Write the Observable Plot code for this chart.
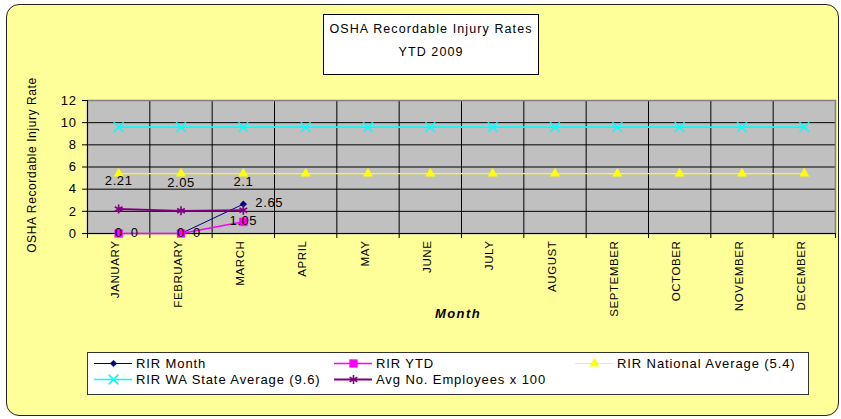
<!DOCTYPE html>
<html>
<head>
<meta charset="utf-8">
<script src="https://cdn.jsdelivr.net/npm/d3@7"></script>
<script src="https://cdn.jsdelivr.net/npm/@observablehq/plot@0.6"></script>
<style>
  html, body { margin: 0; padding: 0; background: #fff; }
  body { font-family: "Liberation Sans", Arial, sans-serif; }
  #wrap { position: relative; width: 841px; height: 419px; overflow: hidden; }
  #frame { position: absolute; left: 6px; top: 4px; width: 833px; height: 412px; background: #FFFF99; border: 1.5px solid #222; border-radius: 13px; box-sizing: border-box; }
  #chart { position: absolute; left: 0; top: 0; }
  #title { position: absolute; left: 323px; top: 14px; width: 216px; height: 61px; background: #fff; border: 1px solid #000; box-sizing: border-box; text-align: center; font-size: 12.5px; letter-spacing: 1.1px; color: #000; }
  #title div { position: absolute; left: 0; right: 0; }
  #legend { position: absolute; left: 87px; top: 352px; width: 722px; height: 43px; background: #fff; border: 1px solid #333; box-sizing: border-box; font-size: 13px; letter-spacing: 0.9px; color: #000; }
  .item { position: absolute; display: flex; align-items: center; height: 16px; white-space: nowrap; }
  .item svg { margin-right: 4px; }
</style>
</head>
<body>
<div id="wrap">
  <div id="frame"></div>
  <div id="chart"></div>
  <div id="title"><div style="top:7px">OSHA Recordable Injury Rates</div><div style="top:30px">YTD 2009</div></div>
  <div id="legend"></div>
</div>
<script>
const months = ["JANUARY","FEBRUARY","MARCH","APRIL","MAY","JUNE","JULY","AUGUST","SEPTEMBER","OCTOBER","NOVEMBER","DECEMBER"];
const rirMonth = [0, 0, 2.65];
const rirYTD = [0, 0, 1.05];
const nationalAvg = [5.4, 5.4, 5.4, 5.4, 5.4, 5.4, 5.4, 5.4, 5.4, 5.4, 5.4, 5.4];
const waStateAvg = [9.6, 9.6, 9.6, 9.6, 9.6, 9.6, 9.6, 9.6, 9.6, 9.6, 9.6, 9.6];
const avgEmployees = [2.21, 2.05, 2.1];
const yTicks = [0, 2, 4, 6, 8, 10, 12];

const series = [
  {name: "RIR Month", values: rirMonth, color: "#000080", symbol: "diamond2", fill: true, width: 1, r: 3},
  {name: "RIR YTD", values: rirYTD, color: "#FF00FF", symbol: "square", fill: true, width: 1.5, r: 4.4},
  {name: "RIR National Average (5.4)", values: nationalAvg, color: "#FFFF00", symbol: "triangle", fill: true, width: 1.2, r: 3.4},
  {name: "RIR WA State Average (9.6)", values: waStateAvg, color: "#00FFFF", symbol: "times", fill: false, width: 1.6, r: 4.5},
  {name: "Avg No. Employees x 100", values: avgEmployees, color: "#800080", symbol: "asterisk", fill: false, width: 1.8, r: 4.2}
];
const rows = series.flatMap(s => s.values.map((v, i) => ({series: s.name, x: i + 0.5, y: v})));
const bySeries = name => rows.filter(d => d.series === name);

const marks = [
  Plot.frame({fill: "#C0C0C0"}),
  Plot.ruleY(yTicks, {stroke: "#000", strokeWidth: 1}),
  Plot.ruleX(d3.range(1, 12), {stroke: "#000", strokeWidth: 1}),
  Plot.frame({stroke: "#808080", strokeWidth: 1.5}),
  Plot.ruleX([0], {stroke: "#000"}),
  Plot.ruleY([0], {stroke: "#000"}),
  Plot.axisY({ticks: yTicks, tickSize: 5, tickPadding: 6, fontSize: 13, stroke: "#000", fill: "#000", label: null, anchor: "left"}),
  Plot.axisX({ticks: d3.range(0, 13), tickSize: 5, tickFormat: () => "", label: null, stroke: "#000"}),
  Plot.axisX({ticks: d3.range(0, 12).map(i => i + 0.5), tickSize: 0, tickPadding: 7, tickRotate: -90, tickFormat: v => months[Math.floor(v)], fontSize: 11.5, label: null, fill: "#000", dx: -3})
];
for (const s of series) {
  const data = bySeries(s.name);
  marks.push(Plot.line(data, {x: "x", y: "y", stroke: s.color, strokeWidth: s.width}));
  marks.push(Plot.dot(data, {x: "x", y: "y", symbol: () => s.symbol, r: s.r,
    fill: s.fill ? s.color : "none", stroke: s.color, strokeWidth: s.fill ? 0.5 : 1.6}));
}
// data labels
marks.push(Plot.text(bySeries("RIR YTD"), {x: "x", y: "y", text: d => String(d.y), fontSize: 13, fill: "#000", dy: -1}));
marks.push(Plot.text(bySeries("RIR Month"), {x: "x", y: "y", text: d => String(d.y), fontSize: 13, fill: "#000", textAnchor: "start", dx: 12, dy: -1}));
marks.push(Plot.text(bySeries("Avg No. Employees x 100"), {x: "x", y: "y", text: d => String(d.y), fontSize: 13, fill: "#000", dy: -28}));

const chart = Plot.plot({
  width: 841, height: 419,
  marginLeft: 87, marginRight: 6, marginTop: 100, marginBottom: 186,
  style: {background: "transparent", fontFamily: "'Liberation Sans', Arial, sans-serif", color: "#000", letterSpacing: "0.6px"},
  x: {type: "linear", domain: [0, 12]},
  y: {type: "linear", domain: [0, 12]},
  marks
});
document.getElementById("chart").appendChild(chart);

// axis titles as SVG text
const svg = d3.select(chart);
svg.append("text").attr("transform", "translate(36,165) rotate(-90)").attr("text-anchor", "middle")
  .attr("font-size", 12).attr("fill", "#000").style("letter-spacing", "0.6px").text("OSHA Recordable Injury Rate");
svg.append("text").attr("x", 458).attr("y", 318).attr("text-anchor", "middle")
  .attr("font-size", 13).attr("font-weight", "bold").attr("font-style", "italic").attr("fill", "#000")
  .style("letter-spacing", "1.4px").text("Month");

// legend
const legendPos = [
  {left: 6, top: 2}, {left: 246, top: 2}, {left: 487, top: 2},
  {left: 6, top: 18}, {left: 246, top: 18}
];
const legend = document.getElementById("legend");
series.forEach((s, i) => {
  const it = document.createElement("div");
  it.className = "item";
  it.style.left = legendPos[i].left + "px";
  it.style.top = legendPos[i].top + "px";
  const sw = Plot.plot({
    width: 38, height: 14, margin: 0,
    x: {domain: [0, 2], axis: null}, y: {domain: [0, 1], axis: null},
    style: {background: "transparent"},
    marks: [
      Plot.ruleY([0.5], {stroke: s.color, strokeWidth: s.width}),
      Plot.dot([{x: 1, y: 0.5}], {x: "x", y: "y", symbol: () => s.symbol, r: s.r,
        fill: s.fill ? s.color : "none", stroke: s.color, strokeWidth: s.fill ? 0.5 : 1.6})
    ]
  });
  it.appendChild(sw);
  const t = document.createElement("span");
  t.textContent = s.name;
  it.appendChild(t);
  legend.appendChild(it);
});
</script>
</body>
</html>
